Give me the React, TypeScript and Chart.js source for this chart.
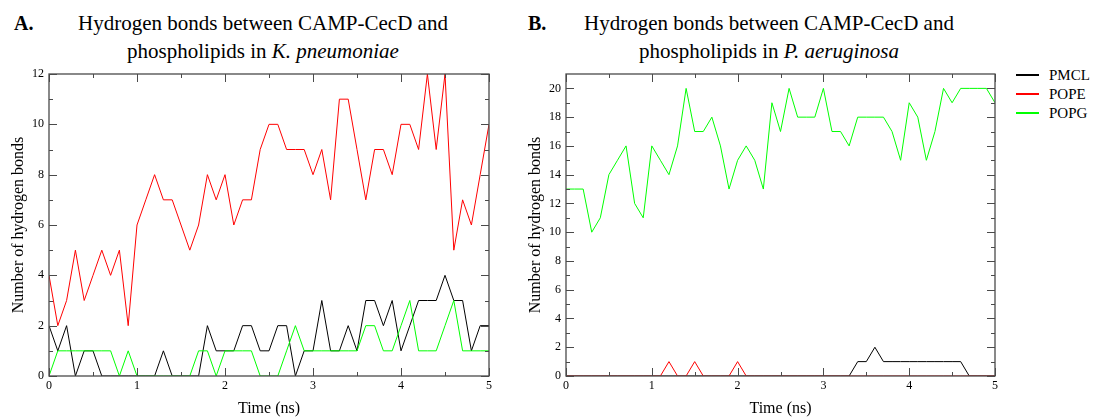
import React, { useEffect, useRef } from "react";
import { Chart, registerables } from "chart.js";

Chart.register(...registerables);

// ---------- data ----------
const times = [0, 0.1, 0.2, 0.3, 0.4, 0.5, 0.6, 0.7, 0.8, 0.9, 1, 1.1, 1.2, 1.3, 1.4, 1.5, 1.6, 1.7, 1.8, 1.9, 2, 2.1, 2.2, 2.3, 2.4, 2.5, 2.6, 2.7, 2.8, 2.9, 3, 3.1, 3.2, 3.3, 3.4, 3.5, 3.6, 3.7, 3.8, 3.9, 4, 4.1, 4.2, 4.3, 4.4, 4.5, 4.6, 4.7, 4.8, 4.9, 5];

// Panel A: K. pneumoniae
const kpPMCL = [2, 1, 2, 0, 1, 1, 0, 0, 0, 0, 0, 0, 0, 1, 0, 0, 0, 0, 2, 1, 1, 1, 2, 2, 1, 1, 2, 2, 0, 1, 1, 3, 1, 1, 2, 1, 3, 3, 2, 3, 1, 2, 3, 3, 3, 4, 3, 3, 1, 2, 2];
const kpPOPE = [4, 2, 3, 5, 3, 4, 5, 4, 5, 2, 6, 7, 8, 7, 7, 6, 5, 6, 8, 7, 8, 6, 7, 7, 9, 10, 10, 9, 9, 9, 8, 9, 7, 11, 11, 9, 7, 9, 9, 8, 10, 10, 9, 12, 9, 12, 5, 7, 6, 8, 10];
const kpPOPG = [0, 1, 1, 1, 1, 1, 1, 1, 0, 1, 0, 0, 0, 0, 0, 0, 0, 1, 1, 0, 1, 1, 1, 1, 0, 0, 0, 1, 2, 1, 1, 1, 1, 1, 1, 1, 2, 2, 1, 1, 2, 3, 1, 1, 1, 2, 3, 1, 1, 1, 1];

// Panel B: P. aeruginosa
const paPMCL = [0, 0, 0, 0, 0, 0, 0, 0, 0, 0, 0, 0, 0, 0, 0, 0, 0, 0, 0, 0, 0, 0, 0, 0, 0, 0, 0, 0, 0, 0, 0, 0, 0, 0, 1, 1, 2, 1, 1, 1, 1, 1, 1, 1, 1, 1, 1, 0, 0, 0, 0];
const paPOPE = [0, 0, 0, 0, 0, 0, 0, 0, 0, 0, 0, 0, 1, 0, 0, 1, 0, 0, 0, 0, 1, 0, 0, 0, 0, 0, 0, 0, 0, 0, 0, 0, 0, 0, 0, 0, 0, 0, 0, 0, 0, 0, 0, 0, 0, 0, 0, 0, 0, 0, 0];
const paPOPG = [13, 13, 13, 10, 11, 14, 15, 16, 12, 11, 16, 15, 14, 16, 20, 17, 17, 18, 16, 13, 15, 16, 15, 13, 19, 17, 20, 18, 18, 18, 20, 17, 17, 16, 18, 18, 18, 18, 17, 15, 19, 18, 15, 17, 20, 19, 20, 20, 20, 20, 19];

const seriesNames = ["PMCL", "POPE", "POPG"];
const seriesColors = ["#000000", "#ff0000", "#00ff00"];

const xTicks = [0, 1, 2, 3, 4, 5];
const xMinorTicks = [0.5, 1.5, 2.5, 3.5, 4.5];
const kpYTicks = [0, 2, 4, 6, 8, 10, 12];
const kpYMinorTicks = [1, 3, 5, 7, 9, 11];
const paYTicks = [0, 2, 4, 6, 8, 10, 12, 14, 16, 18, 20];
const paYMinorTicks = [1, 3, 5, 7, 9, 11, 13, 15, 17, 19];

const FONT = "'Liberation Serif', 'Times New Roman', serif";

// ---------- frame + inward ticks (drawn on top, like xmgrace) ----------
const frameTicksPlugin = {
  id: "frameTicks",
  afterDatasetsDraw(chart: any, _args: any, opts: any) {
    const { ctx, chartArea: a, scales } = chart;
    const xs = scales.x;
    const ys = scales.y;
    ctx.save();
    ctx.strokeStyle = "#4a4a4a";
    ctx.lineWidth = 1;
    ctx.beginPath();
    const major = 8;
    const minor = 4;
    const xt = (vals: number[], len: number) =>
      vals.forEach((v) => {
        const px = Math.round(xs.getPixelForValue(v)) + 0.5;
        ctx.moveTo(px, a.bottom);
        ctx.lineTo(px, a.bottom - len);
        ctx.moveTo(px, a.top);
        ctx.lineTo(px, a.top + len);
      });
    const yt = (vals: number[], len: number) =>
      vals.forEach((v) => {
        const py = Math.round(ys.getPixelForValue(v)) + 0.5;
        ctx.moveTo(a.left, py);
        ctx.lineTo(a.left + len, py);
        ctx.moveTo(a.right, py);
        ctx.lineTo(a.right - len, py);
      });
    xt(opts.xMajor || [], major);
    xt(opts.xMinor || [], minor);
    yt(opts.yMajor || [], major);
    yt(opts.yMinor || [], minor);
    ctx.stroke();
    ctx.lineWidth = 1.3;
    ctx.strokeRect(a.left, a.top, a.right - a.left, a.bottom - a.top);
    ctx.restore();
  },
};

type PanelProps = {
  left: number;
  width: number;
  yAxisWidth: number;
  padRight: number;
  yTitlePad: number;
  yMax: number;
  yTicks: number[];
  yMinor: number[];
  pmcl: number[];
  pope: number[];
  popg: number[];
};

function Panel(p: PanelProps) {
  const ref = useRef<HTMLCanvasElement | null>(null);
  useEffect(() => {
    if (!ref.current) return;
    const series = [p.pmcl, p.pope, p.popg];
    const chart = new Chart(ref.current, {
      type: "line",
      data: {
        datasets: series.map((vals, i) => ({
          label: seriesNames[i],
          data: times.map((t, k) => ({ x: t, y: vals[k] })),
          borderColor: seriesColors[i],
          backgroundColor: seriesColors[i],
          borderWidth: 1,
          pointRadius: 0,
          tension: 0,
          fill: false,
          order: 3 - i,
        })),
      },
      options: {
        animation: false,
        responsive: false,
        maintainAspectRatio: false,
        events: [],
        layout: { padding: { left: 0, right: p.padRight, top: 14, bottom: 0 } },
        plugins: {
          legend: { display: false },
          tooltip: { enabled: false },
          title: { display: false },
          frameTicks: { xMajor: xTicks, xMinor: xMinorTicks, yMajor: p.yTicks, yMinor: p.yMinor },
        } as any,
        scales: {
          x: {
            type: "linear",
            min: 0,
            max: 5,
            afterBuildTicks: (s: any) => {
              s.ticks = xTicks.map((v) => ({ value: v }));
            },
            afterFit: (s: any) => {
              s.height = 41;
            },
            grid: { display: false, drawTicks: false },
            border: { display: false },
            ticks: {
              color: "#000",
              padding: 3,
              maxRotation: 0,
              autoSkip: false,
              font: { family: FONT, size: 12 },
            },
            title: {
              display: true,
              text: "Time (ns)",
              color: "#000",
              font: { family: FONT, size: 16, lineHeight: 1 },
              padding: { top: 0, bottom: 0 },
            },
          },
          y: {
            type: "linear",
            min: 0,
            max: p.yMax,
            afterBuildTicks: (s: any) => {
              s.ticks = p.yTicks.map((v) => ({ value: v }));
            },
            afterFit: (s: any) => {
              s.width = p.yAxisWidth;
            },
            grid: { display: false, drawTicks: false },
            border: { display: false },
            ticks: {
              color: "#000",
              padding: 5,
              autoSkip: false,
              font: { family: FONT, size: 12 },
            },
            title: {
              display: true,
              text: "Number of hydrogen bonds",
              color: "#000",
              font: { family: FONT, size: 16 },
              padding: { top: p.yTitlePad, bottom: 0 },
            },
          },
        },
      },
      plugins: [frameTicksPlugin],
    });
    return () => chart.destroy();
  }, []);
  return (
    <canvas
      ref={ref}
      width={p.width}
      height={357}
      style={{ position: "absolute", left: p.left, top: 60, width: p.width, height: 357 }}
    />
  );
}

const titleStyle: React.CSSProperties = {
  position: "absolute",
  textAlign: "center",
  fontFamily: FONT,
  fontSize: 21,
  lineHeight: "28px",
  color: "#000",
  whiteSpace: "nowrap",
};

const letterStyle: React.CSSProperties = {
  position: "absolute",
  fontFamily: FONT,
  fontSize: 20,
  fontWeight: "bold",
  lineHeight: "28px",
  color: "#000",
};

export default function App() {
  return (
    <div
      style={{
        position: "fixed",
        left: 0,
        top: 0,
        width: 1094,
        height: 417,
        background: "#fff",
        overflow: "hidden",
      }}
    >
      <div style={{ ...letterStyle, left: 14, top: 9 }}>A.</div>
      <div style={{ ...titleStyle, left: 63, width: 400, top: 9 }}>
        Hydrogen bonds between CAMP-CecD and
        <br />
        phospholipids in <i>K. pneumoniae</i>
      </div>
      <div style={{ ...letterStyle, left: 528, top: 9 }}>B.</div>
      <div style={{ ...titleStyle, left: 569, width: 400, top: 9 }}>
        Hydrogen bonds between CAMP-CecD and
        <br />
        phospholipids in <i>P. aeruginosa</i>
      </div>

      <Panel
        left={0}
        width={500}
        yAxisWidth={49}
        padRight={11}
        yTitlePad={9}
        yMax={12}
        yTicks={kpYTicks}
        yMinor={kpYMinorTicks}
        pmcl={kpPMCL}
        pope={kpPOPE}
        popg={kpPOPG}
      />
      <Panel
        left={520}
        width={490}
        yAxisWidth={46}
        padRight={15}
        yTitlePad={6}
        yMax={21}
        yTicks={paYTicks}
        yMinor={paYMinorTicks}
        pmcl={paPMCL}
        pope={paPOPE}
        popg={paPOPG}
      />

      {seriesNames.map((name, i) => (
        <div
          key={name}
          style={{
            position: "absolute",
            left: 1016,
            top: 65 + i * 19,
            height: 20,
            display: "flex",
            alignItems: "center",
            fontFamily: FONT,
            fontSize: 15,
            lineHeight: "20px",
            color: "#000",
          }}
        >
          <span
            style={{
              display: "inline-block",
              width: 23,
              height: 2,
              background: seriesColors[i],
              marginRight: 10,
            }}
          />
          <span>{name}</span>
        </div>
      ))}
    </div>
  );
}
